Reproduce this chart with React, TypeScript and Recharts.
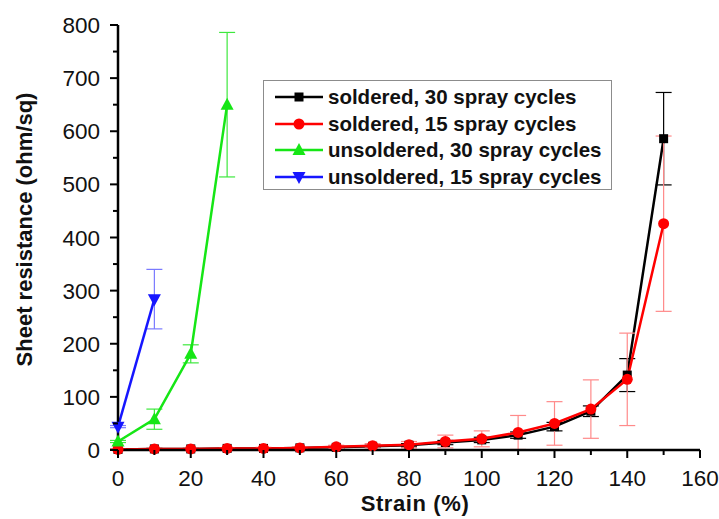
import React from 'react';
import { ErrorBar, Legend, Line, LineChart, XAxis, YAxis } from 'recharts';

// Strain (%) for each measurement step
const strainSoldered = [0, 10, 20, 30, 40, 50, 60, 70, 80, 90, 100, 110, 120, 130, 140, 150];
const strainUnsoldered30 = [0, 10, 20, 30];
const strainUnsoldered15 = [0, 10];

// Sheet resistance (ohm/sq) and error half-widths
const soldered30 = [1, 2, 2, 3, 3, 4, 5, 7, 9, 14, 19, 28, 44, 73, 141, 586];
const soldered30Err = [1, 1, 1, 1, 1, 1, 2, 2, 3, 4, 5, 6, 8, 10, 31, 87];
const soldered15 = [1, 2, 2, 3, 3, 4, 6, 8, 10, 16, 21, 33, 50, 77, 133, 426];
const soldered15Err = [1, 1, 1, 1, 2, 2, 3, 4, 6, 12, 15, 32, 41, 55, 87, 165];
const unsoldered30 = [16, 58, 181, 650];
const unsoldered30Err = [2, 19, 17, 136];
const unsoldered15 = [44, 284];
const unsoldered15Err = [2, 56];

const xTicks = [0, 10, 20, 30, 40, 50, 60, 70, 80, 90, 100, 110, 120, 130, 140, 150, 160];
const yTicks = [0, 50, 100, 150, 200, 250, 300, 350, 400, 450, 500, 550, 600, 650, 700, 750, 800];

const toRows = (xs: number[], ys: number[], errs: number[]) =>
  xs.map((x, i) => ({ x, y: ys[i], err: errs[i] }));

type Shape = 'square' | 'circle' | 'up' | 'down';

interface SeriesDef {
  name: string;
  color: string;
  errColor: string;
  shape: Shape;
  data: { x: number; y: number; err: number }[];
}

const series: SeriesDef[] = [
  { name: 'soldered, 30 spray cycles', color: '#000000', errColor: '#000000', shape: 'square', data: toRows(strainSoldered, soldered30, soldered30Err) },
  { name: 'soldered, 15 spray cycles', color: '#ff0000', errColor: '#ff8a8a', shape: 'circle', data: toRows(strainSoldered, soldered15, soldered15Err) },
  { name: 'unsoldered, 30 spray cycles', color: '#16e616', errColor: '#3ee83e', shape: 'up', data: toRows(strainUnsoldered30, unsoldered30, unsoldered30Err) },
  { name: 'unsoldered, 15 spray cycles', color: '#1616ff', errColor: '#7a7aff', shape: 'down', data: toRows(strainUnsoldered15, unsoldered15, unsoldered15Err) },
];

const SANS = "'Liberation Sans', Arial, sans-serif";

function Marker({ shape, cx, cy, color }: { shape: Shape; cx: number; cy: number; color: string }) {
  if (shape === 'square') return <rect x={cx - 4.5} y={cy - 4.5} width={9} height={9} fill={color} />;
  if (shape === 'circle') return <circle cx={cx} cy={cy} r={5.5} fill={color} />;
  if (shape === 'up') return <path d={`M${cx},${cy - 7} L${cx + 6.5},${cy + 5} L${cx - 6.5},${cy + 5} Z`} fill={color} />;
  return <path d={`M${cx},${cy + 7} L${cx + 6.5},${cy - 5} L${cx - 6.5},${cy - 5} Z`} fill={color} />;
}

const dotFor = (s: SeriesDef) => (props: any) => {
  const { cx, cy, index } = props;
  if (cx == null || cy == null) return <g key={`d-${index}`} />;
  return (
    <g key={`d-${s.shape}-${index}`}>
      <Marker shape={s.shape} cx={cx} cy={cy} color={s.color} />
    </g>
  );
};

function XTick({ x, y, payload }: any) {
  const major = payload.value % 20 === 0;
  return (
    <g>
      <line x1={x} y1={y} x2={x} y2={y + (major ? 8 : 5)} stroke="#000" strokeWidth={2} />
      {major && (
        <text x={x} y={y + 36} textAnchor="middle" fontFamily={SANS} fontSize={22.5} fill="#111">
          {payload.value}
        </text>
      )}
    </g>
  );
}

function YTick({ x, y, payload }: any) {
  const major = payload.value % 100 === 0;
  return (
    <g>
      <line x1={x} y1={y} x2={x - (major ? 8 : 5)} y2={y} stroke="#000" strokeWidth={2} />
      {major && (
        <text x={x - 18} y={y + 8} textAnchor="end" fontFamily={SANS} fontSize={22.5} fill="#111">
          {payload.value}
        </text>
      )}
    </g>
  );
}

function LegendBox() {
  return (
    <div
      style={{
        boxSizing: 'border-box',
        width: 349,
        height: 110,
        border: '1.5px solid #8c8c8c',
        background: '#fff',
        padding: '3px 0 0 11px',
      }}
    >
      {series.map((s) => (
        <div key={s.name} style={{ display: 'flex', alignItems: 'center', height: 26.5 }}>
          <svg width={48} height={20} style={{ flex: 'none' }}>
            <line x1={0} y1={10} x2={48} y2={10} stroke={s.color} strokeWidth={2.5} />
            <Marker shape={s.shape} cx={24} cy={10} color={s.color} />
          </svg>
          <span style={{ marginLeft: 5, fontFamily: SANS, fontWeight: 'bold', fontSize: 20.5, color: '#111', whiteSpace: 'nowrap' }}>
            {s.name}
          </span>
        </div>
      ))}
    </div>
  );
}

export default function App() {
  return (
    <div style={{ position: 'absolute', left: 0, top: 0, background: '#fff' }}>
      <LineChart width={719} height={519} margin={{ top: 25, right: 19, bottom: 0, left: 0 }}>
        <XAxis
          type="number"
          dataKey="x"
          domain={[0, 160]}
          ticks={xTicks}
          interval={0}
          height={69}
          tickSize={0}
          tickMargin={0}
          tickLine={false}
          tick={<XTick />}
          axisLine={{ stroke: '#000', strokeWidth: 2.5 }}
          allowDuplicatedCategory={false}
          label={({ viewBox }: any) => (
            <text
              x={viewBox.x + viewBox.width / 2 + 6}
              y={viewBox.y + 61}
              textAnchor="middle"
              fontFamily={SANS}
              fontWeight="bold"
              fontSize={22}
              letterSpacing={0.6}
              fill="#111"
            >
              Strain (%)
            </text>
          )}
        />
        <XAxis xAxisId="top" orientation="top" type="number" domain={[0, 160]} height={0} tick={false} tickLine={false} axisLine={{ stroke: '#000', strokeWidth: 2.5 }} />
        <YAxis
          type="number"
          dataKey="y"
          domain={[0, 800]}
          ticks={yTicks}
          interval={0}
          width={118}
          tickSize={0}
          tickMargin={0}
          tickLine={false}
          tick={<YTick />}
          axisLine={{ stroke: '#000', strokeWidth: 2.5 }}
          label={({ viewBox }: any) => {
            const cx = 24;
            const cy = viewBox.y + viewBox.height / 2 - 8;
            return (
              <text
                x={cx}
                y={cy}
                transform={`rotate(-90, ${cx}, ${cy})`}
                textAnchor="middle"
                dominantBaseline="central"
                fontFamily={SANS}
                fontWeight="bold"
                fontSize={22}
                fill="#111"
              >
                Sheet resistance (ohm/sq)
              </text>
            );
          }}
        />
        <YAxis yAxisId="right" orientation="right" domain={[0, 800]} width={0} tick={false} tickLine={false} axisLine={{ stroke: '#000', strokeWidth: 2.5 }} />
        <Legend
          layout="vertical"
          align="center"
          verticalAlign="middle"
          wrapperStyle={{ left: 263, top: 80, width: 349 }}
          content={() => <LegendBox />}
        />
        {series.map((s) => (
          <Line
            key={s.name}
            name={s.name}
            data={s.data}
            dataKey="y"
            type="linear"
            stroke={s.color}
            strokeWidth={2.5}
            dot={dotFor(s)}
            activeDot={false}
            isAnimationActive={false}
          >
            <ErrorBar dataKey="err" direction="y" width={8} stroke={s.errColor} strokeWidth={1.2} />
          </Line>
        ))}
      </LineChart>
    </div>
  );
}
